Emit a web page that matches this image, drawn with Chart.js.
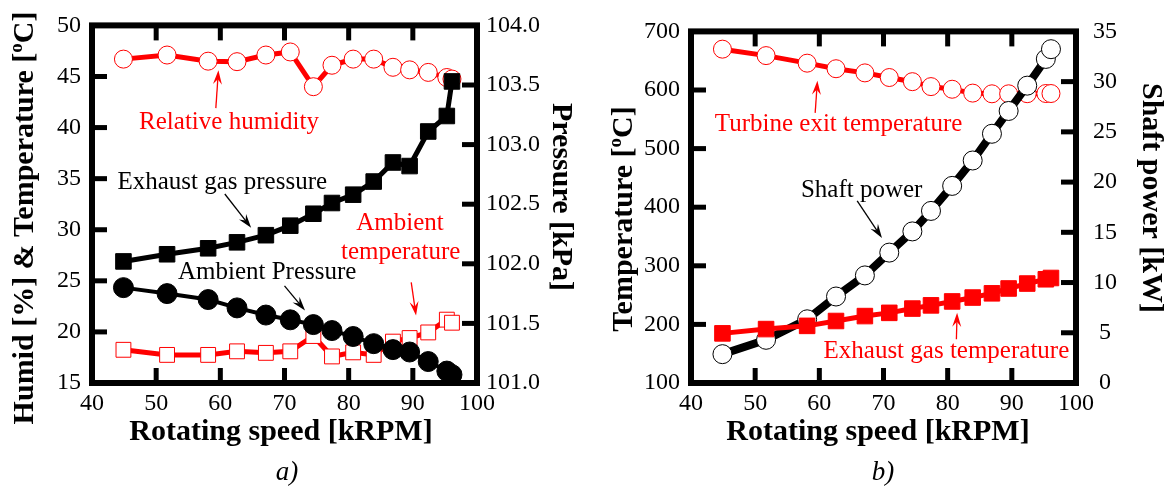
<!DOCTYPE html>
<html>
<head>
<meta charset="utf-8">
<script src="https://cdn.jsdelivr.net/npm/chart.js@4.4.1/dist/chart.umd.min.js"></script>
<style>
  body { margin: 0; background: #fff; }
  #wrap { position: relative; width: 1174px; height: 494px; }
  canvas { position: absolute; top: 0; }
  #chartA { left: 0; }
  #chartB { left: 587px; }
</style>
</head>
<body>
<div id="wrap">
  <canvas id="chartA" width="587" height="494"></canvas>
  <canvas id="chartB" width="587" height="494"></canvas>
</div>
<script>
// data (rotating speed in kRPM, shared by both panels)
var speed = [44.9, 51.7, 58.1, 62.6, 67.1, 70.9, 74.5, 77.4, 80.7, 83.9, 86.9, 89.5, 92.4, 95.3, 96.1];

// panel a)
var humidity = [46.7, 47.1, 46.5, 46.45, 47.1, 47.4, 44.0, 46.1, 46.7, 46.7, 45.9, 45.65, 45.4, 44.9, 44.75];
var ambientTemp = [18.25, 17.75, 17.75, 18.1, 17.95, 18.1, 19.6, 17.6, 18.0, 17.75, 19.05, 19.4, 19.95, 21.2, 20.9];
var exhaustPressure = [102.02, 102.08, 102.13, 102.18, 102.24, 102.32, 102.42, 102.51, 102.58, 102.69, 102.85, 102.82, 103.11, 103.24, 103.53];
var ambientPressure = [101.80, 101.75, 101.70, 101.63, 101.57, 101.53, 101.49, 101.44, 101.39, 101.33, 101.28, 101.26, 101.18, 101.10, 101.07];

// panel b)
var turbineExitTemp = [669.7, 658.7, 645.8, 636.3, 629.2, 621.3, 614.2, 605.8, 601.3, 594.7, 593.5, 593.5, 593.7, 594, 594];
var exhaustTemp = [184.7, 192, 197.5, 205.8, 214.2, 219.7, 227, 232.5, 239.2, 245.8, 253, 261.3, 269.7, 277, 279.2];
var shaftPower = [2.87, 4.30, 6.34, 8.61, 10.71, 12.98, 15.09, 17.13, 19.62, 22.15, 24.81, 27.08, 29.60, 32.26, 33.23];

// tick labels
var speedTicks = [40, 50, 60, 70, 80, 90, 100];
var humidTempTicks = [15, 20, 25, 30, 35, 40, 45, 50];
var pressureTicks = [101.0, 101.5, 102.0, 102.5, 103.0, 103.5, 104.0];
var tempTicks = [100, 200, 300, 400, 500, 600, 700];
var powerTicks = [0, 5, 10, 15, 20, 25, 30, 35];

var RED = '#ff0000';
var SERIF = '"Liberation Serif", "Times New Roman", serif';

function pts(ys) {
    return speed.map(function (x, i) { return {x: x, y: ys[i]}; });
}

function scale(position, list, size, extra) {
    var o = {
        type: 'linear',
        position: position,
        min: list[0],
        max: list[list.length - 1],
        grid: {display: false, drawTicks: false},
        border: {display: false},
        afterBuildTicks: function (s) {
            s.ticks = list.map(function (v) { return {value: v}; });
        },
        afterFit: function (s) {
            if (position === 'bottom') s.height = size; else s.width = size;
        },
        ticks: {
            color: '#000',
            font: {family: SERIF, size: 24},
            padding: 10,
            autoSkip: false,
            maxRotation: 0
        }
    };
    if (extra) {
        for (var k in extra) o.ticks[k] = extra[k];
    }
    return o;
}

function line(ctx, x0, y0, x1, y1) {
    ctx.beginPath();
    ctx.moveTo(x0, y0);
    ctx.lineTo(x1, y1);
    ctx.stroke();
}

// text with "^o^" superscript parts
function drawRich(ctx, text, x, y, rot, size) {
    var parts = text.split('^');
    var big = 'bold ' + size + 'px ' + SERIF;
    var small = 'bold ' + Math.round(size * 0.62) + 'px ' + SERIF;
    ctx.save();
    ctx.translate(x, y);
    ctx.rotate(rot);
    ctx.textAlign = 'left';
    ctx.textBaseline = 'alphabetic';
    var w = 0;
    parts.forEach(function (p, i) {
        ctx.font = i % 2 ? small : big;
        w += ctx.measureText(p).width;
    });
    var cx = -w / 2;
    parts.forEach(function (p, i) {
        ctx.font = i % 2 ? small : big;
        ctx.fillText(p, cx, i % 2 ? -size * 0.38 : 0);
        cx += ctx.measureText(p).width;
    });
    ctx.restore();
}

// frame, inward ticks, axis titles, notes and arrows
var framePlugin = {
    id: 'frame',
    afterDatasetsDraw: function (chart, args, opts) {
        var ctx = chart.ctx, a = chart.chartArea, s = chart.scales;
        var L = 15;
        ctx.save();
        ctx.strokeStyle = '#000';
        ctx.lineWidth = 5;
        s.x.ticks.forEach(function (t) {
            if (t.value <= s.x.min || t.value >= s.x.max) return;
            var px = s.x.getPixelForValue(t.value);
            line(ctx, px, a.bottom, px, a.bottom - L);
            line(ctx, px, a.top, px, a.top + L);
        });
        s.y.ticks.forEach(function (t) {
            if (t.value <= s.y.min || t.value >= s.y.max) return;
            var py = s.y.getPixelForValue(t.value);
            line(ctx, a.left, py, a.left + L, py);
        });
        s.y1.ticks.forEach(function (t) {
            if (t.value <= s.y1.min || t.value >= s.y1.max) return;
            var py = s.y1.getPixelForValue(t.value);
            line(ctx, a.right, py, a.right - L, py);
        });
        ctx.lineWidth = 6;
        ctx.strokeRect(a.left, a.top, a.right - a.left, a.bottom - a.top);

        // notes
        ctx.font = '25px ' + SERIF;
        ctx.textAlign = 'center';
        ctx.textBaseline = 'middle';
        opts.notes.forEach(function (n) {
            ctx.fillStyle = n.color;
            ctx.fillText(n.text, s.x.getPixelForValue(n.x), s[n.axis].getPixelForValue(n.y));
        });
        // arrows
        opts.arrows.forEach(function (r) {
            var x0 = s.x.getPixelForValue(r.x0), y0 = s[r.axis].getPixelForValue(r.y0);
            var x1 = s.x.getPixelForValue(r.x1), y1 = s[r.axis].getPixelForValue(r.y1);
            var ang = Math.atan2(y1 - y0, x1 - x0);
            ctx.strokeStyle = r.color;
            ctx.fillStyle = r.color;
            ctx.lineWidth = 1.3;
            line(ctx, x0, y0, x1 - 8 * Math.cos(ang), y1 - 8 * Math.sin(ang));
            ctx.beginPath();
            ctx.moveTo(x1, y1);
            ctx.lineTo(x1 - 14 * Math.cos(ang) + 4.5 * Math.sin(ang), y1 - 14 * Math.sin(ang) - 4.5 * Math.cos(ang));
            ctx.lineTo(x1 - 9 * Math.cos(ang), y1 - 9 * Math.sin(ang));
            ctx.lineTo(x1 - 14 * Math.cos(ang) - 4.5 * Math.sin(ang), y1 - 14 * Math.sin(ang) + 4.5 * Math.cos(ang));
            ctx.closePath();
            ctx.fill();
        });

        // axis titles
        ctx.fillStyle = '#000';
        var t = opts.titles;
        drawRich(ctx, t.bottom.text, t.bottom.x, t.bottom.y, 0, 30);
        drawRich(ctx, t.left.text, t.left.x, t.left.y, -Math.PI / 2, 30);
        drawRich(ctx, t.right.text, t.right.x, t.right.y, Math.PI / 2, 30);

        // caption
        ctx.font = 'italic 27px ' + SERIF;
        ctx.textAlign = 'center';
        ctx.textBaseline = 'alphabetic';
        ctx.fillText(t.caption.text, t.caption.x, t.caption.y);
        ctx.restore();
    }
};

function ds(label, data, axis, color, style, radius, filled, width, order) {
    return {
        label: label,
        data: pts(data),
        yAxisID: axis,
        borderColor: color,
        borderWidth: width,
        backgroundColor: color,
        pointStyle: style,
        pointRadius: radius,
        pointHoverRadius: radius,
        pointBackgroundColor: filled ? color : '#fff',
        pointBorderColor: color,
        pointBorderWidth: 1,
        tension: 0,
        fill: false,
        order: order
    };
}

var common = {
    responsive: false,
    animation: false,
    devicePixelRatio: 1,
    events: [],
    layout: {padding: {top: 23, left: 0, right: 0, bottom: 0}},
    plugins: {legend: {display: false}, tooltip: {enabled: false}}
};

var configA = {
    type: 'line',
    data: {
        datasets: [
            ds('Ambient Pressure', ambientPressure, 'y1', '#000', 'circle', 10, true, 4, 0),
            ds('Exhaust gas pressure', exhaustPressure, 'y1', '#000', 'rect', 11, true, 5, 1),
            ds('Ambient temperature', ambientTemp, 'y', RED, 'rect', 10.5, false, 5, 2),
            ds('Relative humidity', humidity, 'y', RED, 'circle', 9, false, 5, 3)
        ]
    },
    options: Object.assign({}, common, {
        scales: {
            x: scale('bottom', speedTicks, 111, {padding: 6}),
            y: scale('left', humidTempTicks, 92, {padding: 11}),
            y1: scale('right', pressureTicks, 110, {padding: 9, callback: function (v) { return v.toFixed(1); }})
        },
        plugins: Object.assign({}, common.plugins, {
            frame: {
                notes: [
                    {text: 'Relative humidity', color: RED, x: 61.35, y: 40.5, axis: 'y'},
                    {text: 'Exhaust gas pressure', color: '#000', x: 60.3, y: 34.6, axis: 'y'},
                    {text: 'Ambient Pressure', color: '#000', x: 67.3, y: 25.8, axis: 'y'},
                    {text: 'Ambient', color: RED, x: 88.0, y: 30.6, axis: 'y'},
                    {text: 'temperature', color: RED, x: 88.1, y: 27.8, axis: 'y'}
                ],
                arrows: [
                    {x0: 59.3, y0: 41.9, x1: 59.7, y1: 45.6, axis: 'y', color: RED},
                    {x0: 60.7, y0: 33.5, x1: 64.8, y1: 30.2, axis: 'y', color: '#000'},
                    {x0: 70.0, y0: 24.5, x1: 73.2, y1: 22.1, axis: 'y', color: '#000'},
                    {x0: 89.75, y0: 24.85, x1: 90.5, y1: 21.6, axis: 'y', color: RED}
                ],
                titles: {
                    bottom: {text: 'Rotating speed [kRPM]', x: 281, y: 440},
                    left: {text: 'Humid [%] & Temperature [^o^C]', x: 33, y: 218},
                    right: {text: 'Pressure [kPa]', x: 553, y: 197},
                    caption: {text: 'a)', x: 287, y: 480}
                }
            }
        })
    }),
    plugins: [framePlugin]
};

var configB = {
    type: 'line',
    data: {
        datasets: [
            ds('Exhaust gas temperature', exhaustTemp, 'y', RED, 'rect', 11, true, 5, 0),
            ds('Shaft power', shaftPower, 'y1', '#000', 'circle', 9.5, false, 8, 1),
            ds('Turbine exit temperature', turbineExitTemp, 'y', RED, 'circle', 9, false, 5, 2)
        ]
    },
    options: Object.assign({}, common, {
        scales: {
            x: scale('bottom', speedTicks, 111, {padding: 6}),
            y: scale('left', tempTicks, 104, {padding: 11}),
            y1: scale('right', powerTicks, 98, {padding: 17, crossAlign: 'center'})
        },
        plugins: Object.assign({}, common.plugins, {
            frame: {
                notes: [
                    {text: 'Turbine exit temperature', color: RED, x: 63.0, y: 542, axis: 'y'},
                    {text: 'Shaft power', color: '#000', x: 66.6, y: 428, axis: 'y'},
                    {text: 'Exhaust gas temperature', color: RED, x: 79.8, y: 154.7, axis: 'y'}
                ],
                arrows: [
                    {x0: 59.35, y0: 561, x1: 59.7, y1: 615.8, axis: 'y', color: RED},
                    {x0: 65.9, y0: 410.8, x1: 69.76, y1: 347.5, axis: 'y', color: '#000'},
                    {x0: 81.36, y0: 174.5, x1: 81.47, y1: 219.8, axis: 'y', color: RED}
                ],
                titles: {
                    bottom: {text: 'Rotating speed [kRPM]', x: 291, y: 440},
                    left: {text: 'Temperature [^o^C]', x: 45, y: 219},
                    right: {text: 'Shaft power [kW]', x: 556, y: 198},
                    caption: {text: 'b)', x: 296, y: 480}
                }
            }
        })
    }),
    plugins: [framePlugin]
};

var chartA = new Chart(document.getElementById('chartA'), configA);
var chartB = new Chart(document.getElementById('chartB'), configB);
</script>
</body>
</html>
